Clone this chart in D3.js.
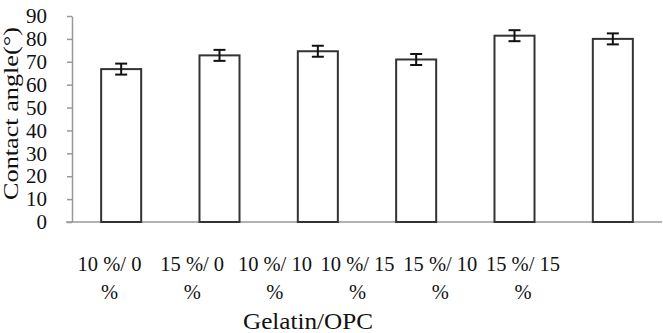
<!DOCTYPE html>
<html>
<head>
<meta charset="utf-8">
<script src="https://cdn.jsdelivr.net/npm/d3@7"></script>
<style>
  body { margin: 0; background: #fff; }
  svg { display: block; font-family: "Liberation Serif", "Times New Roman", serif; }
</style>
</head>
<body>
<div id="chart"></div>
<script>
// Données
const categories = ["10 %/ 0 %", "15 %/ 0 %", "10 %/ 10 %", "10 %/ 15 %", "15 %/ 10 %", "15 %/ 15 %"];
const labelLine1 = ["10 %/ 0", "15 %/ 0", "10 %/ 10", "10 %/ 15", "15 %/ 10", "15 %/ 15"];
const labelLine2 = ["%", "%", "%", "%", "%", "%"];
const contactAngle = [66.8, 72.8, 74.6, 71.0, 81.4, 80.0];
const errorValues = [2.4, 2.4, 2.4, 2.4, 2.4, 2.4];
const yTicks = [0, 10, 20, 30, 40, 50, 60, 70, 80, 90];

const width = 663, height = 333;

const svg = d3.select('#chart').append('svg')
    .attr('width', width)
    .attr('height', height);

const x = d3.scaleBand()
    .domain(categories)
    .range([72, 662])
    .paddingInner(0.593)
    .paddingOuter(0.2965);

// les libellés sont plus serrés que les barres dans l'original
const xLabel = d3.scalePoint()
    .domain(categories)
    .range([109.5, 523]);

const y = d3.scaleLinear()
    .domain([0, 90])
    .range([222, 16]);

// Axe Y
const yAxis = svg.append('g')
    .attr('transform', 'translate(72,0)')
    .call(d3.axisLeft(y).tickValues(yTicks).tickSize(5).tickSizeOuter(0).tickPadding(20));
yAxis.select('.domain').attr('stroke', '#999').attr('stroke-width', 1.5);
yAxis.selectAll('.tick line').attr('stroke', '#999').attr('stroke-width', 1.5);
yAxis.selectAll('.tick text')
    .attr('font-size', '21px')
    .attr('font-family', '"Liberation Serif", serif')
    .attr('fill', '#111');

// Axe X (ligne seule)
svg.append('line')
    .attr('x1', 66).attr('x2', 662)
    .attr('y1', y(0)).attr('y2', y(0))
    .attr('stroke', '#999')
    .attr('stroke-width', 1.5);

// Barres
svg.selectAll('.bar')
    .data(categories)
    .enter()
    .append('rect')
    .attr('class', 'bar')
    .attr('x', d => x(d))
    .attr('y', (d, i) => y(contactAngle[i]))
    .attr('width', x.bandwidth())
    .attr('height', (d, i) => y(0) - y(contactAngle[i]))
    .attr('fill', '#fff')
    .attr('stroke', '#333')
    .attr('stroke-width', 2);

// Barres d'erreur
const err = svg.selectAll('.err')
    .data(categories)
    .enter()
    .append('g')
    .attr('class', 'err')
    .attr('stroke', '#111')
    .attr('stroke-width', 2);

err.append('line')
    .attr('x1', d => x(d) + x.bandwidth() / 2)
    .attr('x2', d => x(d) + x.bandwidth() / 2)
    .attr('y1', (d, i) => y(contactAngle[i] + errorValues[i]))
    .attr('y2', (d, i) => y(contactAngle[i] - errorValues[i]));

[1, -1].forEach(s => {
    err.append('line')
        .attr('x1', d => x(d) + x.bandwidth() / 2 - 6)
        .attr('x2', d => x(d) + x.bandwidth() / 2 + 6)
        .attr('y1', (d, i) => y(contactAngle[i] + s * errorValues[i]))
        .attr('y2', (d, i) => y(contactAngle[i] + s * errorValues[i]));
});

// Libellés des catégories (deux lignes)
const labels = svg.selectAll('.xlab')
    .data(categories)
    .enter()
    .append('text')
    .attr('class', 'xlab')
    .attr('text-anchor', 'middle')
    .attr('font-size', '20.5px')
    .attr('fill', '#111');

labels.append('tspan')
    .attr('x', d => xLabel(d))
    .attr('y', 271)
    .text((d, i) => labelLine1[i]);

labels.append('tspan')
    .attr('x', d => xLabel(d))
    .attr('y', 299)
    .text((d, i) => labelLine2[i]);

// Titres des axes
svg.append('text')
    .attr('x', 308)
    .attr('y', 329)
    .attr('text-anchor', 'middle')
    .attr('font-size', '24px')
    .attr('textLength', 130)
    .attr('lengthAdjust', 'spacingAndGlyphs')
    .attr('fill', '#111')
    .text('Gelatin/OPC');

svg.append('text')
    .attr('transform', 'rotate(-90)')
    .attr('x', -113.5)
    .attr('y', 18)
    .attr('text-anchor', 'middle')
    .attr('font-size', '21px')
    .attr('textLength', 173)
    .attr('lengthAdjust', 'spacingAndGlyphs')
    .attr('fill', '#111')
    .text('Contact angle(°)');
</script>
</body>
</html>
